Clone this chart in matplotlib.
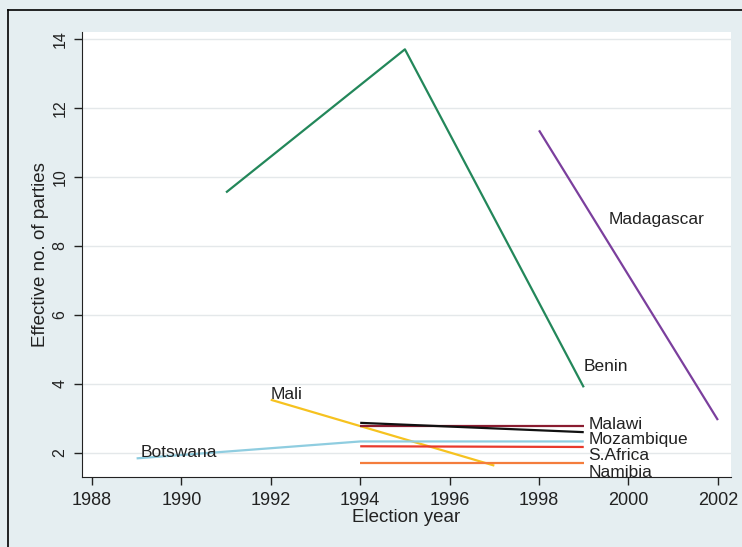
import numpy as np
import matplotlib.pyplot as plt
from matplotlib.lines import Line2D

plt.rcParams['font.family'] = ['Liberation Sans', 'DejaVu Sans']

# Series data (election year, effective no. of parties)
benin_x = [1991, 1995, 1999]
benin_y = [9.55, 13.7, 3.9]
madagascar_x = [1998, 2002]
madagascar_y = [11.35, 2.95]
mali_x = [1992, 1997]
mali_y = [3.54, 1.63]
botswana_x = [1989, 1994, 1999]
botswana_y = [1.84, 2.33, 2.33]
malawi_x = [1994, 1999]
malawi_y = [2.77, 2.77]
mozambique_x = [1994, 1999]
mozambique_y = [2.87, 2.6]
safrica_x = [1994, 1999]
safrica_y = [2.19, 2.17]
namibia_x = [1994, 1999]
namibia_y = [1.7, 1.7]

series = [
    ('Benin', benin_x, benin_y, '#23875a'),
    ('Madagascar', madagascar_x, madagascar_y, '#7b3f9d'),
    ('Mali', mali_x, mali_y, '#f6c21f'),
    ('Botswana', botswana_x, botswana_y, '#8fcde0'),
    ('Malawi', malawi_x, malawi_y, '#8a1c30'),
    ('Mozambique', mozambique_x, mozambique_y, '#111111'),
    ('S.Africa', safrica_x, safrica_y, '#e83a2c'),
    ('Namibia', namibia_x, namibia_y, '#f47d3c'),
]

# label baseline positions (x, y) in data units
label_pos = {
    'Benin': (1999.0, 4.36),
    'Madagascar': (1999.55, 8.63),
    'Mali': (1992.0, 3.55),
    'Botswana': (1989.1, 1.88),
    'Malawi': (1999.1, 2.68),
    'Mozambique': (1999.1, 2.25),
    'S.Africa': (1999.1, 1.79),
    'Namibia': (1999.1, 1.31),
}

xticks = [1988, 1990, 1992, 1994, 1996, 1998, 2000, 2002]
yticks = [2, 4, 6, 8, 10, 12, 14]

bg = '#e5eef1'
fig = plt.figure(figsize=(7.42, 5.47), dpi=100, facecolor=bg)
ax = fig.add_axes([0.110, 0.128, 0.875, 0.814])
ax.set_facecolor('white')

for name, xs, ys, c in series:
    ax.plot(xs, ys, color=c, lw=1.6, solid_capstyle='butt')
    lx, ly = label_pos[name]
    ax.text(lx, ly, name, fontsize=12.5, va='baseline', ha='left', color='#222222')

ax.set_xlim(1987.77, 2002.29)
ax.set_ylim(1.30, 14.21)
ax.set_xticks(xticks)
ax.set_yticks(yticks)
ax.tick_params(axis='both', direction='out', length=6, width=1, colors='#222222')
ax.tick_params(axis='x', labelsize=13, pad=5)
ax.tick_params(axis='y', labelsize=11.5, labelrotation=90, pad=4)
for lab in ax.get_yticklabels():
    lab.set_va('center')
ax.grid(axis='y', color='#e4e8ea', lw=1)
ax.set_axisbelow(True)
ax.spines['top'].set_visible(False)
ax.spines['right'].set_visible(False)
ax.spines['left'].set_color('#222222')
ax.spines['bottom'].set_color('#222222')
ax.set_xlabel('Election year', fontsize=13.5, labelpad=0, color='#222222')
ax.set_ylabel('Effective no. of parties', fontsize=13.5, labelpad=3, color='#222222')

# page frame (top and left)
fig.add_artist(Line2D([8 / 742, 1], [1 - 10 / 547, 1 - 10 / 547], color='black', lw=1.2))
fig.add_artist(Line2D([8 / 742, 8 / 742], [0, 1 - 10 / 547], color='black', lw=1.2))

fig.savefig('out.png', dpi=100, facecolor=bg)
